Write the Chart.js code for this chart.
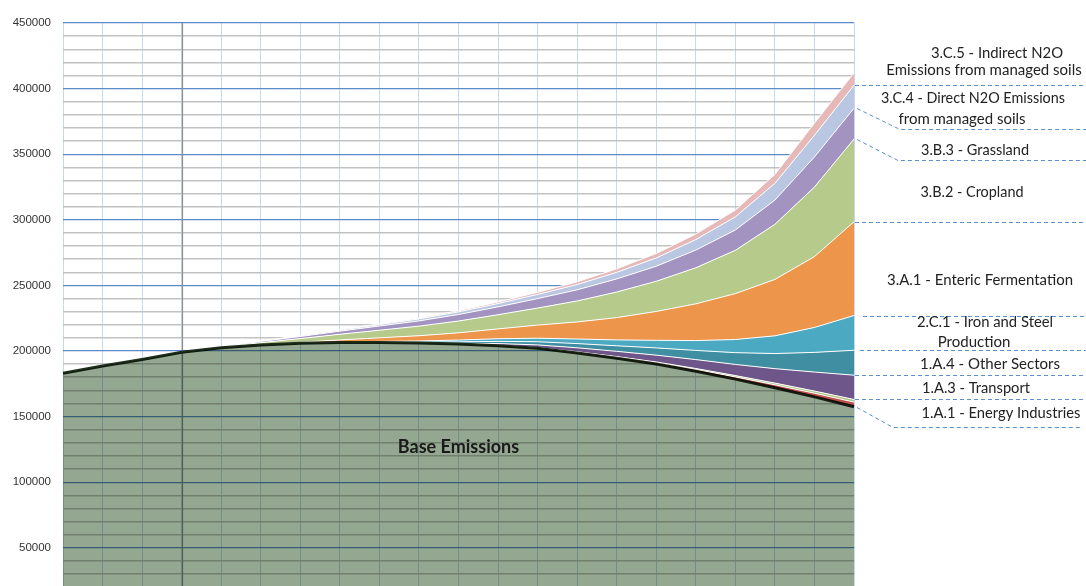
<!DOCTYPE html>
<html>
<head>
<meta charset="utf-8">
<script src="https://cdn.jsdelivr.net/npm/chart.js@4.4.1/dist/chart.umd.min.js"></script>
<style>
    html, body { margin: 0; padding: 0; background: #ffffff; }
    canvas { display: block; }
</style>
</head>
<body>
<canvas id="emissionsChart" width="1086" height="586"></canvas>
<script>
// x categories (not shown on the picture, one per vertical gridline)
const years = ['2010', '2012', '2014', '2016', '2018', '2020', '2022', '2024', '2026', '2028', '2030',
               '2032', '2034', '2036', '2038', '2040', '2042', '2044', '2046', '2048', '2050'];

// stacked series, bottom to top
const baseEmissions      = [183000, 188500, 193500, 199000, 202500, 204500, 205800, 206500, 206500, 206000, 205200, 204000, 202000, 198500, 194500, 190000, 184500, 178500, 172000, 165000, 157500];
const energyIndustries   = [0, 0, 0, 0, 0, 0, 0, 0, 0, 100, 200, 300, 400, 600, 800, 1000, 1300, 1700, 2200, 2800, 3500];
const otherEnergy        = [0, 0, 0, 0, 0, 0, 0, 0, 0, 0, 0, 100, 200, 300, 400, 600, 800, 1000, 1300, 1600, 2000];
const transport          = [0, 0, 0, 0, 0, 0, 0, 0, 0, 0, 400, 1200, 2000, 3000, 4000, 5200, 6800, 8500, 11000, 14500, 18500];
const otherSectors       = [0, 0, 0, 0, 0, 0, 0, 100, 300, 600, 1100, 1700, 2400, 3200, 4200, 5500, 7000, 9000, 11500, 15000, 19000];
const ironSteel          = [0, 0, 0, 0, 0, 0, 0, 200, 500, 900, 1400, 2000, 2700, 3500, 4500, 5800, 7500, 10000, 13500, 19000, 26500];
const entericFermentation = [0, 0, 0, 0, 0, 300, 800, 1600, 2700, 4000, 5500, 7500, 10000, 13000, 17000, 22000, 28000, 35000, 43000, 54000, 71500];
const cropland           = [0, 0, 0, 0, 500, 1500, 2800, 4300, 5800, 7300, 9000, 10800, 13000, 16000, 19500, 23000, 27500, 33000, 42000, 53000, 63000];
const grassland          = [0, 0, 0, 0, 300, 900, 1600, 2400, 3200, 4000, 5000, 6000, 7200, 8500, 10000, 11500, 13500, 15500, 18500, 23000, 23500];
const directN2O          = [0, 0, 0, 0, 100, 250, 500, 800, 1100, 1500, 2000, 2500, 3200, 4000, 5000, 6300, 8000, 10000, 12800, 16500, 17500];
const indirectN2O        = [0, 0, 0, 0, 0, 100, 200, 350, 500, 700, 900, 1200, 1600, 2100, 2700, 3400, 4200, 5200, 6800, 9300, 9500];

// y axis
const yMin = 20800;
const yMax = 450000;
const yMinorStep = 10000;
const yLabelStep = 50000;

const layers = [
    { label: 'Base Emissions', data: baseEmissions, color: '#94a791' },
    { label: '1.A.1 - Energy Industries', data: energyIndustries, color: '#c0504d' },
    { label: '1.A.2', data: otherEnergy, color: '#a9c47f' },
    { label: '1.A.3 - Transport', data: transport, color: '#6f568a' },
    { label: '1.A.4 - Other Sectors', data: otherSectors, color: '#3f8ea2' },
    { label: '2.C.1 - Iron and Steel Production', data: ironSteel, color: '#4ba9c2' },
    { label: '3.A.1 - Enteric Fermentation', data: entericFermentation, color: '#ed954a' },
    { label: '3.B.2 - Cropland', data: cropland, color: '#b6cb8b' },
    { label: '3.B.3 - Grassland', data: grassland, color: '#a293c0' },
    { label: '3.C.4 - Direct N2O Emissions from managed soils', data: directN2O, color: '#b9c7e2' },
    { label: '3.C.5 - Indirect N2O Emissions from managed soils', data: indirectN2O, color: '#e6b9b8' }
];

// right-hand annotation texts: [text, centre x, baseline y, width]
const sideLabels = [
    ['3.C.5 - Indirect N2O', 997, 58, 132],
    ['Emissions from managed soils', 984, 75, 196],
    ['3.C.4 - Direct N2O Emissions', 973, 103, 184],
    ['from managed soils', 962, 124, 127],
    ['3.B.3 - Grassland', 975, 155, 108],
    ['3.B.2 - Cropland', 972, 197, 103],
    ['3.A.1 - Enteric Fermentation', 980, 285, 186],
    ['2.C.1 - Iron and Steel', 985, 327, 136],
    ['Production', 974, 347, 73],
    ['1.A.4 - Other Sectors', 990, 369, 144],
    ['1.A.3 - Transport', 976, 393, 108],
    ['1.A.1 - Energy Industries', 1001, 418, 159]
];

// dashed leaders: start on the top edge of a layer at the last point
const leaders = [
    { layer: 9, x0: 855, x1: 1086 },
    { layer: 8, x0: 857, elbowX: 900, lineY: 129, x1: 1086 },
    { layer: 7, x0: 857, elbowX: 898, lineY: 160, x1: 1086 },
    { layer: 6, x0: 855, x1: 1086 },
    { layer: 5, x0: 863, x1: 1086 },
    { layer: 4, x0: 860, x1: 1086 },
    { layer: 3, x0: 855, x1: 1086 },
    { layer: 2, x0: 855, x1: 1086 },
    { layer: 0, x0: 857, elbowX: 893, lineY: 427, x1: 1083 }
];

// index of the darker vertical gridline
const markerIndex = 3;

const HTMLelement = document.getElementById('emissionsChart');

const data = {
    labels: years,
    datasets: layers.map(function (l, i) {
        return {
            label: l.label,
            data: l.data,
            backgroundColor: l.color,
            borderColor: i === 0 ? '#1f2e1d' : '#ffffff',
            borderWidth: i === 0 ? 3 : 1,
            fill: i === 0 ? 'origin' : '-1',
            pointRadius: 0,
            tension: 0
        };
    })
};

// base area is drawn last; multiply it so the grid shows through like the original
const multiplyBase = {
    id: 'multiplyBase',
    beforeDatasetsDraw: function (chart) {
        // darker vertical line on top of the horizontal grid
        const ctx = chart.ctx;
        const px = Math.round(chart.scales.x.getPixelForValue(markerIndex)) + 0.5;
        ctx.save();
        ctx.strokeStyle = '#8e8e8e';
        ctx.lineWidth = 1.2;
        ctx.beginPath();
        ctx.moveTo(px, chart.chartArea.top);
        ctx.lineTo(px, chart.chartArea.bottom);
        ctx.stroke();
        ctx.restore();
    },
    afterDatasetDraw: function (chart, args) {
        if (args.index === 1) chart.ctx.globalCompositeOperation = 'multiply';
        if (args.index === 0) chart.ctx.globalCompositeOperation = 'source-over';
    }
};

const annotations = {
    id: 'annotations',
    afterDraw: function (chart) {
        const ctx = chart.ctx;
        const x = chart.scales.x;
        const y = chart.scales.y;
        const last = years.length - 1;

        ctx.save();
        ctx.globalCompositeOperation = 'source-over';

        // leaders
        ctx.strokeStyle = '#5b8fd0';
        ctx.lineWidth = 1;
        ctx.setLineDash([4, 3]);
        leaders.forEach(function (ld) {
            let sum = 0;
            for (let k = 0; k <= ld.layer; k++) sum += layers[k].data[last];
            const y0 = Math.round(y.getPixelForValue(sum)) + 0.5;
            ctx.beginPath();
            ctx.moveTo(ld.x0, y0);
            if (ld.elbowX) {
                ctx.lineTo(ld.elbowX, ld.lineY + 0.5);
                ctx.lineTo(ld.x1, ld.lineY + 0.5);
            } else {
                ctx.lineTo(ld.x1, y0);
            }
            ctx.stroke();
        });
        ctx.setLineDash([]);

        // side texts
        ctx.fillStyle = '#222222';
        ctx.font = '15px Lato';
        ctx.textAlign = 'center';
        ctx.textBaseline = 'alphabetic';
        sideLabels.forEach(function (s) {
            ctx.fillText(s[0], s[1], s[2], s[3]);
        });

        // label inside the base area
        ctx.font = 'bold 18px Lato';
        ctx.fillStyle = '#1a1a1a';
        ctx.textBaseline = 'middle';
        ctx.fillText(layers[0].label, x.getPixelForValue(10), y.getPixelForValue(127000));
        ctx.restore();
    }
};

const config = {
    type: 'line',
    data: data,
    options: {
        responsive: false,
        devicePixelRatio: 1,
        animation: false,
        layout: {
            padding: { top: 23, right: 232, bottom: 0, left: 0 }
        },
        plugins: {
            legend: { display: false },
            tooltip: { enabled: false }
        },
        scales: {
            x: {
                offset: false,
                border: { display: false },
                ticks: { display: false },
                grid: {
                    drawTicks: false,
                    color: '#c6d9f0',
                    lineWidth: 1
                },
                afterFit: function (scale) { scale.height = 0; }
            },
            y: {
                stacked: true,
                min: yMin,
                max: yMax,
                border: { display: false },
                ticks: {
                    autoSkip: false,
                    padding: 12,
                    color: '#333333',
                    font: { family: 'Liberation Sans', size: 11.5 },
                    callback: function (v) { return v % yLabelStep === 0 ? String(v) : ''; }
                },
                grid: {
                    drawTicks: false,
                    color: function (c) {
                        return c.tick && c.tick.value % yLabelStep === 0 ? '#5b8cc8' : '#c2c2c2';
                    },
                    lineWidth: function (c) {
                        return c.tick && c.tick.value % yLabelStep === 0 ? 1.2 : 1.4;
                    }
                },
                afterBuildTicks: function (scale) {
                    const ticks = [];
                    for (let v = Math.ceil(yMin / yMinorStep) * yMinorStep; v <= yMax; v += yMinorStep) {
                        ticks.push({ value: v });
                    }
                    scale.ticks = ticks;
                },
                afterFit: function (scale) {
                    scale.width = 63;
                    scale.paddingTop = 0;
                    scale.paddingBottom = 0;
                }
            }
        }
    },
    plugins: [multiplyBase, annotations]
};

window.emissionsChart = new Chart(HTMLelement, config);
</script>
</body>
</html>
